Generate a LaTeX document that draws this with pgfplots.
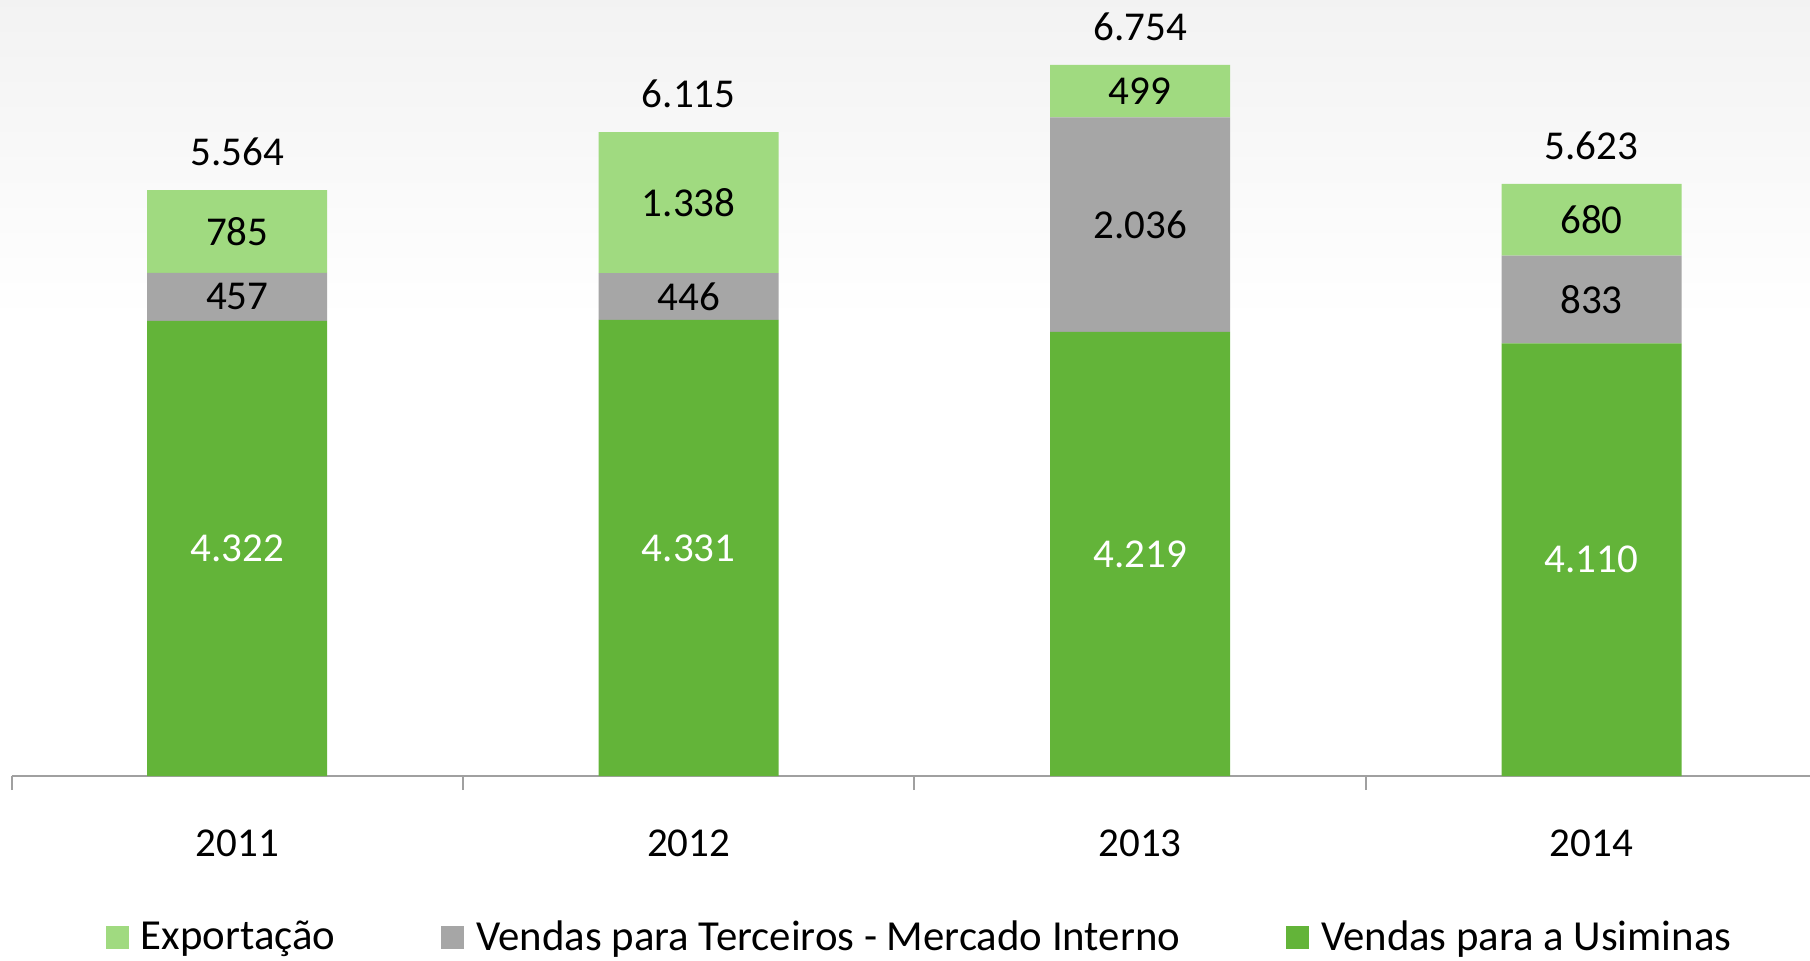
\documentclass[border=0pt]{standalone}
\usepackage{fontspec}
\setmainfont{Carlito}
\usepackage{pgfplots}
\usepackage{pgfplotstable}
\pgfplotsset{compat=1.18}
\definecolor{usgreen}{RGB}{99,180,57}
\definecolor{expgreen}{RGB}{160,218,128}
\definecolor{tergray}{RGB}{166,166,166}
\definecolor{axgray}{RGB}{160,160,160}
\pgfplotstableread{
x us ter exp tot
0 4322 457 785 5564
1 4331 446 1338 6115
2 4219 2036 499 6754
3 4110 833 680 5623
}\data
\pgfplotsset{
  common/.style={
    at={(5.75pt,92pt)}, anchor=south west,
    scale only axis, width=899.25pt, height=388pt,
    bar width=90pt,
    xmin=-0.5, xmax=3.484, ymin=0, ymax=7370,
    clip=false,
    /pgf/number format/.cd, 1000 sep={.}, assume math mode=true,
    /pgfplots/.cd,
    nodes near coords style={font=\fontsize{20.5}{24}\selectfont},
  }
}
\begin{document}
\begin{tikzpicture}
\useasboundingbox (0,0) rectangle (905pt,480pt);
\shade[top color=black!5, bottom color=white] (0,320pt) rectangle (905pt,480pt);
\begin{axis}[
  common,
  ybar stacked,
  axis x line*=bottom, axis y line=none,
  axis line style={axgray, line width=1.3pt, -},
  xtick={0,1,2,3}, xticklabels={2011,2012,2013,2014},
  major tick length=0pt,
  extra x ticks={-0.5,0.5,1.5,2.5}, extra x tick labels={},
  extra x tick style={major tick length=7pt, tick align=outside, tick style={axgray, line width=1pt}},
  ytick=\empty,
  xticklabel style={anchor=center, yshift=-33.5pt, font=\fontsize{20.5}{24}\selectfont},
  legend columns=3, reverse legend,
  legend style={at={(axis description cs:0.505,0)}, anchor=center, yshift=-80.5pt,
    draw=none, fill=none, font=\fontsize{21.4}{25}\selectfont,
    inner sep=0pt, nodes={inner sep=1pt},
    /tikz/every odd column/.append style={column sep=5pt},
    /tikz/every even column/.append style={column sep=52pt}},
  legend image code/.code={\fill[#1] (0pt,-5.75pt) rectangle (11.5pt,5.75pt);},
]
\addplot[fill=usgreen, draw=none, nodes near coords, point meta=\thisrow{us},
  every node near coord/.append style={white, anchor=center}]
  table[x=x, y=us]{\data};
\addlegendentry{Vendas para a Usiminas}
\addplot[fill=tergray, draw=none, nodes near coords, point meta=\thisrow{ter},
  every node near coord/.append style={black, anchor=center}]
  table[x=x, y=ter]{\data};
\addlegendentry{Vendas para Terceiros - Mercado Interno}
\addplot[fill=expgreen, draw=none, nodes near coords, point meta=\thisrow{exp},
  every node near coord/.append style={black, anchor=center}]
  table[x=x, y=exp]{\data};
\addlegendentry{Exportação}
\end{axis}
\begin{axis}[
  common, ybar, hide axis,
]
\addplot[draw=none, fill=none, nodes near coords, point meta=\thisrow{tot},
  every node near coord/.append style={black, anchor=center, yshift=19pt}]
  table[x=x, y=tot]{\data};
\end{axis}
\end{tikzpicture}
\end{document}
